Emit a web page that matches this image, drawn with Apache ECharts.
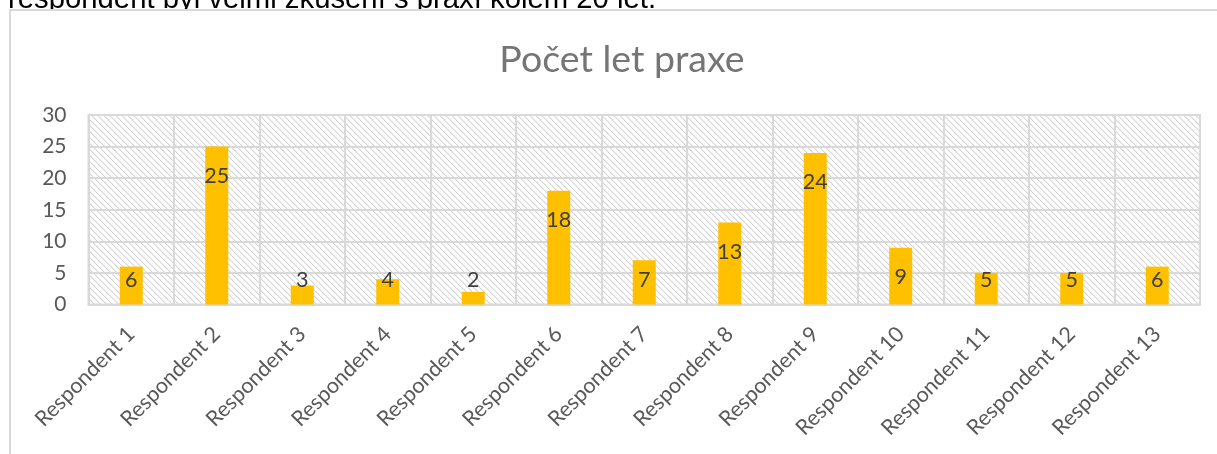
<!DOCTYPE html>
<html>
<head>
<meta charset="utf-8">
<script src="https://cdn.jsdelivr.net/npm/echarts@6/dist/echarts.min.js"></script>
<style>
html,body{margin:0;padding:0;background:#fff;}
#chart{width:1217px;height:454px;}
</style>
</head>
<body>
<div id="chart"></div>
<script>
var categories = ['Respondent 1','Respondent 2','Respondent 3','Respondent 4','Respondent 5','Respondent 6','Respondent 7','Respondent 8','Respondent 9','Respondent 10','Respondent 11','Respondent 12','Respondent 13'];
var values = [6, 25, 3, 4, 2, 18, 7, 13, 24, 9, 5, 5, 6];
var yMin = 0, yMax = 30, yStep = 5;
var titleText = 'Počet let praxe';
var aboveText = 'respondent byl velmi zkušení s praxí kolem 20 let.';

// hatch pattern (downward diagonal)
var pc = document.createElement('canvas');
var P = 6;
pc.width = P; pc.height = P;
var pctx = pc.getContext('2d');
var img = pctx.createImageData(P, P);
for (var yy = 0; yy < P; yy++) {
  for (var xx = 0; xx < P; xx++) {
    var k = ((xx - yy) % P + P) % P;
    var c = 255;
    if (k === 0) c = 214; else if (k === 1) c = 238;
    var i = (yy * P + xx) * 4;
    img.data[i] = c; img.data[i+1] = c; img.data[i+2] = c; img.data[i+3] = 255;
  }
}
pctx.putImageData(img, 0, 0);

var FONT = 'Lato';
var chart = echarts.init(document.getElementById('chart'), null, {renderer: 'canvas'});
chart.setOption({
  animation: false,
  title: {
    text: titleText,
    left: 617,
    top: 36,
    textAlign: 'center',
    textStyle: {fontFamily: FONT, fontSize: 37.5, fontWeight: 'normal', color: '#757575'}
  },
  graphic: [
    {
      type: 'text', z: -20, x: 8, y: -0.5,
      style: {text: aboveText, font: '29.3px "Liberation Sans"', fill: '#000', verticalAlign: 'middle', align: 'left'}
    },
    {
      type: 'rect', z: -10,
      shape: {x: 10, y: 10, width: 1400, height: 700},
      style: {fill: '#fff', stroke: '#d9d9d9', lineWidth: 2}
    }
  ],
  grid: {
    left: 88.5, right: 17, top: 115, bottom: 149.5,
    show: true,
    backgroundColor: {image: pc, repeat: 'repeat'},
    borderColor: '#d9d9d9', borderWidth: 2
  },
  xAxis: {
    type: 'category',
    data: categories,
    axisLine: {show: true, lineStyle: {color: '#d9d9d9', width: 2}},
    axisTick: {show: false},
    splitLine: {show: true, interval: 0, lineStyle: {color: '#d9d9d9', width: 2}},
    axisLabel: {interval: 0, rotate: 45, margin: 26, color: '#595959', fontFamily: FONT, fontSize: 21.5}
  },
  yAxis: {
    type: 'value',
    min: yMin, max: yMax, interval: yStep,
    axisLine: {show: false},
    axisTick: {show: false},
    splitLine: {show: true, lineStyle: {color: '#d9d9d9', width: 2}},
    axisLabel: {margin: 22, color: '#595959', fontFamily: FONT, fontSize: 21}
  },
  series: [{
    type: 'bar',
    data: values,
    barWidth: 23,
    itemStyle: {color: '#FFC000'},
    label: {
      show: true, position: 'insideTop',
      color: '#404040', fontFamily: FONT, fontSize: 21.5
    },
    labelLayout: function (p) {
      var r = p.rect;
      var top = Math.min(r.y, r.y + r.height);
      var bottom = Math.max(r.y, r.y + r.height);
      return {
        x: r.x + r.width / 2,
        y: Math.min(top + 29.5, bottom - 24),
        align: 'center',
        verticalAlign: 'middle'
      };
    }
  }]
});
</script>
</body>
</html>
